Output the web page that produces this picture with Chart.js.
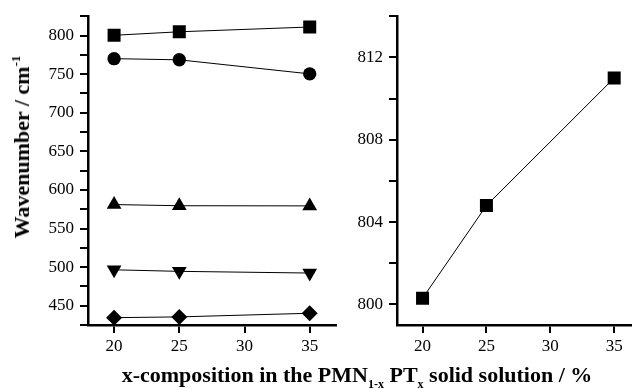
<!DOCTYPE html>
<html>
<head>
<meta charset="utf-8">
<script src="https://cdn.jsdelivr.net/npm/chart.js@4/dist/chart.umd.min.js"></script>
<style>
  body { margin: 0; background: #fff; }
  #wrap { position: relative; width: 640px; height: 389px; overflow: hidden; }
  .pane { position: absolute; top: 0; height: 389px; }
  #ytitle {
    position: absolute; left: 22px; top: 147px;
    transform: translate(-50%, -50%) rotate(-90deg);
    white-space: nowrap; font: bold 22px "Liberation Serif", serif; color: #000;
    line-height: 22px;
  }
  #ytitle sup { font-size: 13px; line-height: 0; vertical-align: 9px; }
  #xtitle {
    position: absolute; left: 357px; top: 364px;
    transform: translateX(-50%);
    white-space: nowrap; font: bold 22px "Liberation Serif", serif; color: #000;
    line-height: 22px;
  }
  #xtitle sub { font-size: 12px; line-height: 0; vertical-align: -6px; }
  .probe { position: absolute; left: -999px; font: 17px "Liberation Serif"; }
</style>
</head>
<body>
<div id="wrap">
  <div class="pane" style="left:0;width:345px"><canvas id="leftChart"></canvas></div>
  <div class="pane" style="left:345px;width:295px"><canvas id="rightChart"></canvas></div>
  <div id="ytitle">Wavenumber / cm<sup>-1</sup></div>
  <div id="xtitle">x-composition in the PMN<sub>1-x</sub> PT<sub>x</sub> solid solution / %</div>
  <span class="probe">0123456789</span>
</div>
<script>
// x-composition of PMN-PT (%)
const composition = [20, 25, 35];

// Raman mode positions (cm-1)
const modeSquare = [800.3, 804.8, 811.0];
const modeCircle = [770, 768.5, 750.3];
const modeTriUp = [581, 579.5, 579.3];
const modeTriDown = [496.5, 494.5, 492.3];
const modeDiamond = [434.5, 435.5, 440.2];

const xTicks = [20, 25, 30, 35];

function pts(ys) {
  return composition.map((x, i) => ({ x: x, y: ys[i] }));
}

const tickFont = { family: "'Liberation Serif', 'Times New Roman', serif", size: 17 };

function serie(data, style, radius, rotation) {
  return {
    data: pts(data),
    borderColor: "#000",
    borderWidth: 1,
    pointStyle: style,
    pointRadius: radius,
    pointRotation: rotation || 0,
    pointBackgroundColor: "#000",
    pointBorderColor: "#000",
    pointBorderWidth: 0,
    fill: false,
    tension: 0,
  };
}

function axisX(max) {
  return {
    type: "linear",
    min: 18,
    max: max,
    afterBuildTicks: (s) => { s.ticks = xTicks.map((v) => ({ value: v })); },
    afterFit: (s) => { s.height = 64; },
    border: { display: true, color: "#000", width: 2.5 },
    grid: { drawOnChartArea: false, drawTicks: true, tickLength: 8, color: "#000", lineWidth: 2 },
    ticks: { color: "#000", font: tickFont, padding: 3, autoSkip: false, maxRotation: 0 },
  };
}

function axisY(min, max, step, labelEvery, width) {
  return {
    type: "linear",
    min: min,
    max: max,
    afterBuildTicks: (s) => {
      const t = [];
      for (let v = Math.ceil(min / step) * step; v <= max + 1e-9; v += step) {
        t.push({ value: v });
      }
      s.ticks = t;
    },
    afterFit: (s) => { s.width = width; },
    border: { display: true, color: "#000", width: 2.5 },
    grid: { drawOnChartArea: false, drawTicks: true, tickLength: 8, color: "#000", lineWidth: 2 },
    ticks: {
      color: "#000", font: tickFont, padding: 6, autoSkip: false,
      callback: (v) => (Math.round(v) % labelEvery === 0 ? v : ""),
    },
  };
}

const common = {
  responsive: true,
  maintainAspectRatio: false,
  animation: false,
  plugins: { legend: { display: false }, tooltip: { enabled: false } },
};

function draw() {
  new Chart(document.getElementById("leftChart"), {
    type: "line",
    data: {
      datasets: [
        serie(modeSquare, "rect", 9.2),
        serie(modeCircle, "circle", 6.7),
        serie(modeTriUp, "triangle", 8.5),
        serie(modeTriDown, "triangle", 8.5, 180),
        serie(modeDiamond, "rectRot", 8),
      ],
    },
    options: Object.assign({}, common, {
      layout: { padding: { top: 14, right: 5, left: 0, bottom: 0 } },
      scales: {
        x: axisX(37),
        y: axisY(425, 825, 25, 50, 88),
      },
    }),
  });

  new Chart(document.getElementById("rightChart"), {
    type: "line",
    data: {
      datasets: [serie(modeSquare, "rect", 9.2)],
    },
    options: Object.assign({}, common, {
      layout: { padding: { top: 14, right: 0, left: 0, bottom: 0 } },
      scales: {
        x: axisX(36.3),
        y: axisY(799, 814, 2, 4, 52),
      },
    }),
  });
}

document.fonts.load("17px 'Liberation Serif'").then(draw, draw);
</script>
</body>
</html>
